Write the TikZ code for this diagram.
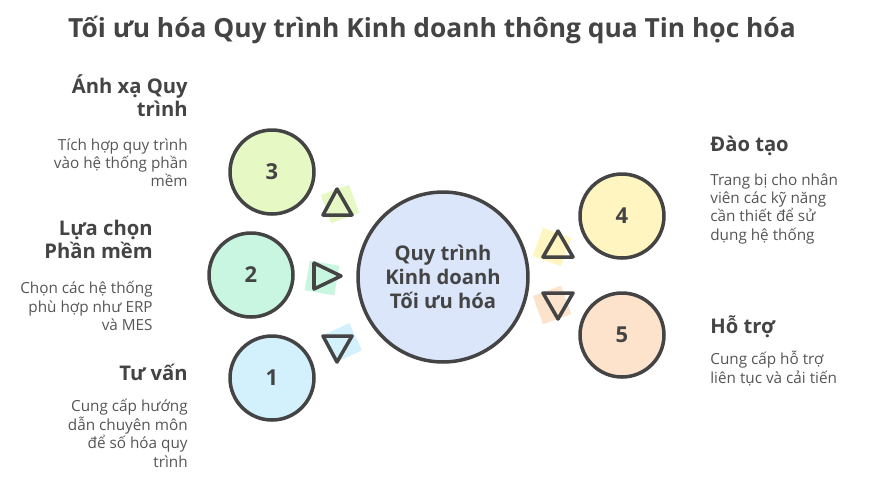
\documentclass[tikz,border=0pt]{standalone}
\usepackage{fontspec}
\setmainfont{Open Sans}
\usetikzlibrary{positioning}

\definecolor{ink}{HTML}{444444}
\definecolor{inklight}{HTML}{555555}
\definecolor{limefill}{HTML}{E6F9C4}
\definecolor{mintfill}{HTML}{C9F6E1}
\definecolor{skyfill}{HTML}{D3F1FC}
\definecolor{corefill}{HTML}{DCE6FB}
\definecolor{yellowfill}{HTML}{FEF5C0}
\definecolor{peachfill}{HTML}{FDE2CC}

\tikzset{
  stepcircle/.style={circle, draw=ink, line width=2pt, minimum size=1.68cm,
    inner sep=0pt, text=ink, font=\fontsize{12.5}{14}\selectfont\bfseries},
  corecircle/.style={stepcircle, minimum size=3.4cm, align=center,
    font=\fontsize{11.5}{13.6}\selectfont\bfseries},
  headtext/.style={inner sep=0pt, text=ink, font=\fontsize{11.5}{13}\selectfont\bfseries},
  desctext/.style={inner sep=0pt, text=inklight, font=\fontsize{8.7}{10.5}\selectfont},
  marker/.style={draw=ink, line width=2pt, line join=round}
}

\begin{document}
\begin{tikzpicture}[x=0.02cm, y=-0.02cm]
  \useasboundingbox (0,0) rectangle (885,485);

  % Title
  \node[headtext, font=\fontsize{15}{17}\selectfont\bfseries] (title) at (432,30)
    {Tối ưu hóa Quy trình Kinh doanh thông qua Tin học hóa};

  % Soft patches behind the markers
  \fill[limefill, rotate around={20:(340,204)}] (325,189) rectangle (355,219);
  \fill[mintfill, rotate around={-10:(322,278)}] (307,263) rectangle (337,293);
  \fill[skyfill, rotate around={25:(342,343)}] (327,328) rectangle (357,358);
  \fill[yellowfill, rotate around={-20:(552,247)}] (537,232) rectangle (567,262);
  \fill[peachfill, rotate around={20:(552,305)}] (537,290) rectangle (567,320);

  % Circles
  \node[corecircle, fill=corefill] (core) at (443,277) {Quy trình\\Kinh doanh\\Tối ưu hóa};
  \node[stepcircle, fill=skyfill] (s1) at (272,378) {1};
  \node[stepcircle, fill=mintfill] (s2) at (251,275) {2};
  \node[stepcircle, fill=limefill] (s3) at (272,172) {3};
  \node[stepcircle, fill=yellowfill] (s4) at (622,216) {4};
  \node[stepcircle, fill=peachfill] (s5) at (622,335) {5};

  % Markers (triangles)
  \draw[marker] (323,215) -- (352,215) -- (337,189) -- cycle;
  \draw[marker] (314,263) -- (314,289) -- (341,276) -- cycle;
  \draw[marker] (323,336) -- (352,336) -- (337,362) -- cycle;
  \draw[marker] (543,257) -- (573,257) -- (558,231) -- cycle;
  \draw[marker] (543,293) -- (573,293) -- (558,319) -- cycle;

  % Left side labels
  \node[headtext, anchor=north east, align=right] (h3) at (188,74) {Ánh xạ Quy\\trình};
  \node[desctext, anchor=north east, align=right] (d3) at (188,138)
    {Tích hợp quy trình\\vào hệ thống phần\\mềm};
  \node[headtext, anchor=north east, align=right] (h2) at (153,220) {Lựa chọn\\Phần mềm};
  \node[desctext, anchor=north east, align=right] (d2) at (153,281)
    {Chọn các hệ thống\\phù hợp như ERP\\và MES};
  \node[headtext, anchor=north east, align=right] (h1) at (188,364) {Tư vấn};
  \node[desctext, anchor=north east, align=right] (d1) at (188,399)
    {Cung cấp hướng\\dẫn chuyên môn\\để số hóa quy\\trình};

  % Right side labels
  \node[headtext, anchor=north west, align=left] (h4) at (710,136) {Đào tạo};
  \node[desctext, anchor=north west, align=left] (d4) at (710,173)
    {Trang bị cho nhân\\viên các kỹ năng\\cần thiết để sử\\dụng hệ thống};
  \node[headtext, anchor=north west, align=left] (h5) at (710,315) {Hỗ trợ};
  \node[desctext, anchor=north west, align=left] (d5) at (710,351)
    {Cung cấp hỗ trợ\\liên tục và cải tiến};
\end{tikzpicture}
\end{document}
